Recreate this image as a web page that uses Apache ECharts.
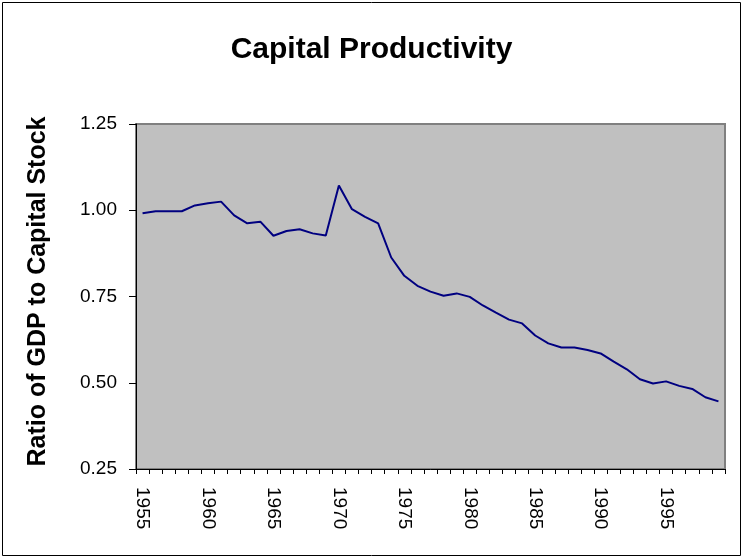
<html>
<head>
	<meta charset="utf-8">
	<title>Capital Productivity</title>
	<script src="https://cdn.jsdelivr.net/npm/echarts@6/dist/echarts.min.js"></script>
	<style type="text/css">
		html, body { margin: 0; padding: 0; background: #fff; }
	</style>
</head>
	<body>
		<div id="eCharts-container" style="width:743px;height:558px"></div>
	<script type="text/javascript">
		// years on the category axis
		var years = [];
		for (var y = 1955; y <= 1999; y++) {
			years.push(String(y));
		}
		// ratio of GDP to capital stock
		var ratio = [
			0.991, 0.997, 0.997, 0.997, 1.014, 1.020, 1.025, 0.985, 0.962, 0.967,
			0.926, 0.940, 0.945, 0.933, 0.927, 1.072, 1.003, 0.981, 0.962, 0.863,
			0.810, 0.781, 0.764, 0.752, 0.759, 0.749, 0.724, 0.703, 0.683, 0.672,
			0.637, 0.614, 0.602, 0.602, 0.595, 0.585, 0.561, 0.539, 0.510, 0.498,
			0.504, 0.491, 0.482, 0.458, 0.446
		];
		var yTicks = [0.25, 0.50, 0.75, 1.00, 1.25];

		var myChart = echarts.init(document.getElementById('eCharts-container'));
		var fontName = 'Liberation Sans, Arial, sans-serif';
		var option = {
			animation: false,
			title: {
				text: 'Capital Productivity',
				left: 'center',
				top: 30,
				textStyle: { fontFamily: fontName, fontSize: 30, fontWeight: 'bold', color: '#000' }
			},
			graphic: [{
				type: 'rect',
				shape: { x: 2.5, y: 2.5, width: 738, height: 553 },
				style: { fill: 'none', stroke: '#000', lineWidth: 1 },
				silent: true
			}],
			grid: {
				left: 136, top: 124, right: 18, bottom: 89,
				show: true,
				backgroundColor: '#C0C0C0',
				borderColor: '#808080',
				borderWidth: 2
			},
			xAxis: {
				type: 'category',
				data: years,
				boundaryGap: true,
				axisLine: { lineStyle: { color: '#000', width: 1 } },
				axisTick: { show: true, interval: 0, length: 5, inside: false, lineStyle: { color: '#000' } },
				axisLabel: {
					interval: 4,
					rotate: -90,
					margin: 18,
					fontFamily: fontName,
					fontSize: 19,
					color: '#000'
				},
				splitLine: { show: false }
			},
			yAxis: {
				type: 'value',
				min: yTicks[0],
				max: yTicks[yTicks.length - 1],
				interval: 0.25,
				name: 'Ratio of GDP to Capital Stock',
				nameLocation: 'middle',
				nameGap: 85,
				nameTextStyle: { fontFamily: fontName, fontSize: 25, fontWeight: 'bold', color: '#000', padding: [0, 0, 0, 10] },
				axisLine: { show: true, lineStyle: { color: '#000', width: 1 } },
				axisTick: { show: true, length: 7, lineStyle: { color: '#000' } },
				axisLabel: {
					margin: 19,
					fontFamily: fontName,
					fontSize: 19,
					color: '#000',
					formatter: function (v) { return v.toFixed(2); }
				},
				splitLine: { show: false }
			},
			series: [{
				name: 'Capital Productivity',
				type: 'line',
				data: ratio,
				symbol: 'none',
				lineStyle: { color: '#000080', width: 2 }
			}]
		};
		myChart.setOption(option);
	</script>
	</body>
</html>
